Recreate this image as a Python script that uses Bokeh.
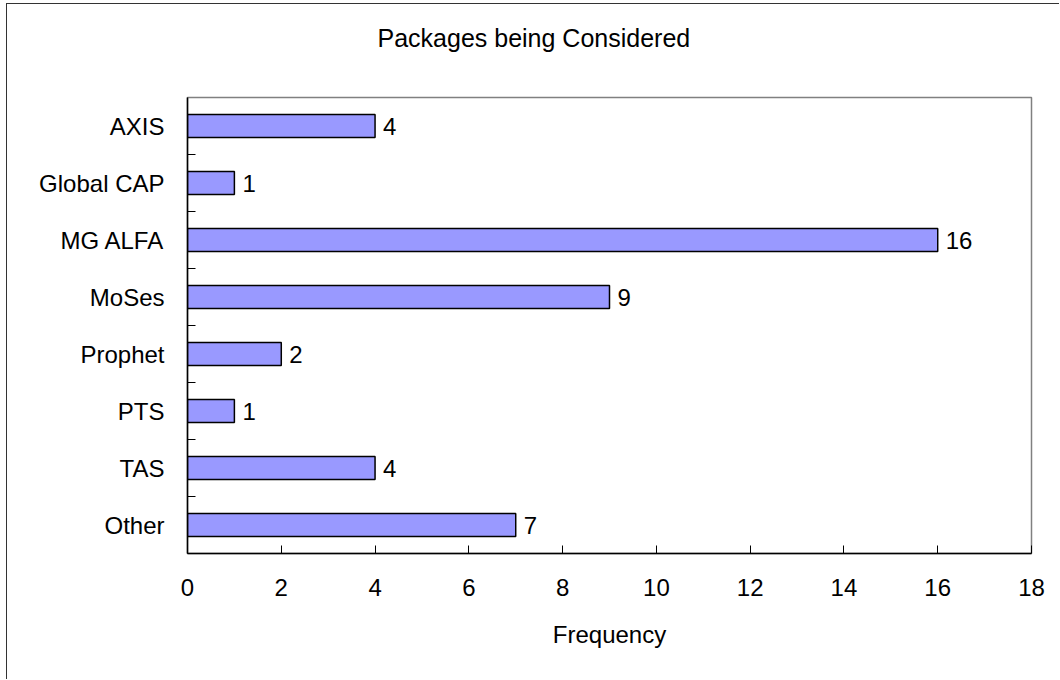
from bokeh.plotting import figure
from bokeh.models import FixedTicker, ColumnDataSource, Range1d, Title
from bokeh.embed import file_html
from bokeh.resources import INLINE
from bokeh.core.properties import value

# ---- data ----
packages = ["AXIS", "Global CAP", "MG ALFA", "MoSes", "Prophet", "PTS", "TAS", "Other"]
frequency = [4, 1, 16, 9, 2, 1, 4, 7]
x_ticks = [0, 2, 4, 6, 8, 10, 12, 14, 16, 18]
title_text = "Packages being Considered"
x_label = "Frequency"

FONT = "Liberation Sans"
n = len(packages)
ypos = [n - 0.5 - i for i in range(n)]
src = ColumnDataSource(dict(y=ypos, f=frequency, lab=[str(v) for v in frequency]))

W, H = 1053, 676
TOP, BOTTOM, LEFT, RIGHT = 93, 127, 180, 29
p = figure(width=W, height=H, title=None,
           x_range=Range1d(x_ticks[0], x_ticks[-1]), y_range=Range1d(0, n),
           output_backend="svg", toolbar_location=None,
           min_border_left=LEFT, min_border_right=RIGHT,
           min_border_top=TOP, min_border_bottom=BOTTOM)

p.styles = {"margin-left": "6px", "margin-top": "3px",
            "border-left": "1px solid #333333", "border-top": "1px solid #333333"}

p.hbar(y="y", right="f", left=0, height=0.4, source=src,
       fill_color="#9999FF", line_color="black", line_width=1.5)
p.text(x="f", y="y", text="lab", source=src, x_offset=8,
       text_baseline="middle", text_align="left",
       text_font=value(FONT), text_font_size="24px", text_color="black")

p.xgrid.visible = False
p.ygrid.visible = False
p.outline_line_color = "#808080"
p.outline_line_width = 1.5
p.background_fill_color = "white"
p.border_fill_color = "white"

# x axis
xa = p.xaxis[0]
xa.ticker = FixedTicker(ticks=x_ticks, minor_ticks=[])
xa.major_tick_in = 8
xa.major_tick_out = 0
xa.axis_line_color = "black"
xa.axis_line_width = 1.5
xa.major_tick_line_color = "black"
xa.major_label_text_font = FONT
xa.major_label_text_font_size = "24px"
xa.major_label_text_color = "black"
xa.major_label_standoff = 25
xa.axis_label = x_label
xa.axis_label_text_font = FONT
xa.axis_label_text_font_size = "24px"
xa.axis_label_text_font_style = "normal"
xa.axis_label_text_color = "black"
xa.axis_label_standoff = 22

# y axis: labels at category centres, ticks at boundaries
ya = p.yaxis[0]
ya.ticker = FixedTicker(ticks=ypos, minor_ticks=list(range(1, n)))
ya.major_label_overrides = {y: name for y, name in zip(ypos, packages)}
ya.major_tick_line_color = None
ya.major_tick_in = 0
ya.major_tick_out = 0
ya.minor_tick_in = 8
ya.minor_tick_out = 0
ya.minor_tick_line_color = "black"
ya.axis_line_color = "black"
ya.axis_line_width = 1.5
ya.major_label_text_font = FONT
ya.major_label_text_font_size = "24px"
ya.major_label_text_color = "black"
ya.major_label_standoff = 23

# spacer between frame and title, then the title itself
p.add_layout(Title(text=" ", text_font=FONT, text_font_size="24px", standoff=12), "above")
p.add_layout(Title(text=title_text, align="left", offset=190, standoff=10,
                   text_font=FONT, text_font_size="25px", text_font_style="normal",
                   text_color="black"), "above")

open("out.html", "w").write(file_html(p, INLINE))
